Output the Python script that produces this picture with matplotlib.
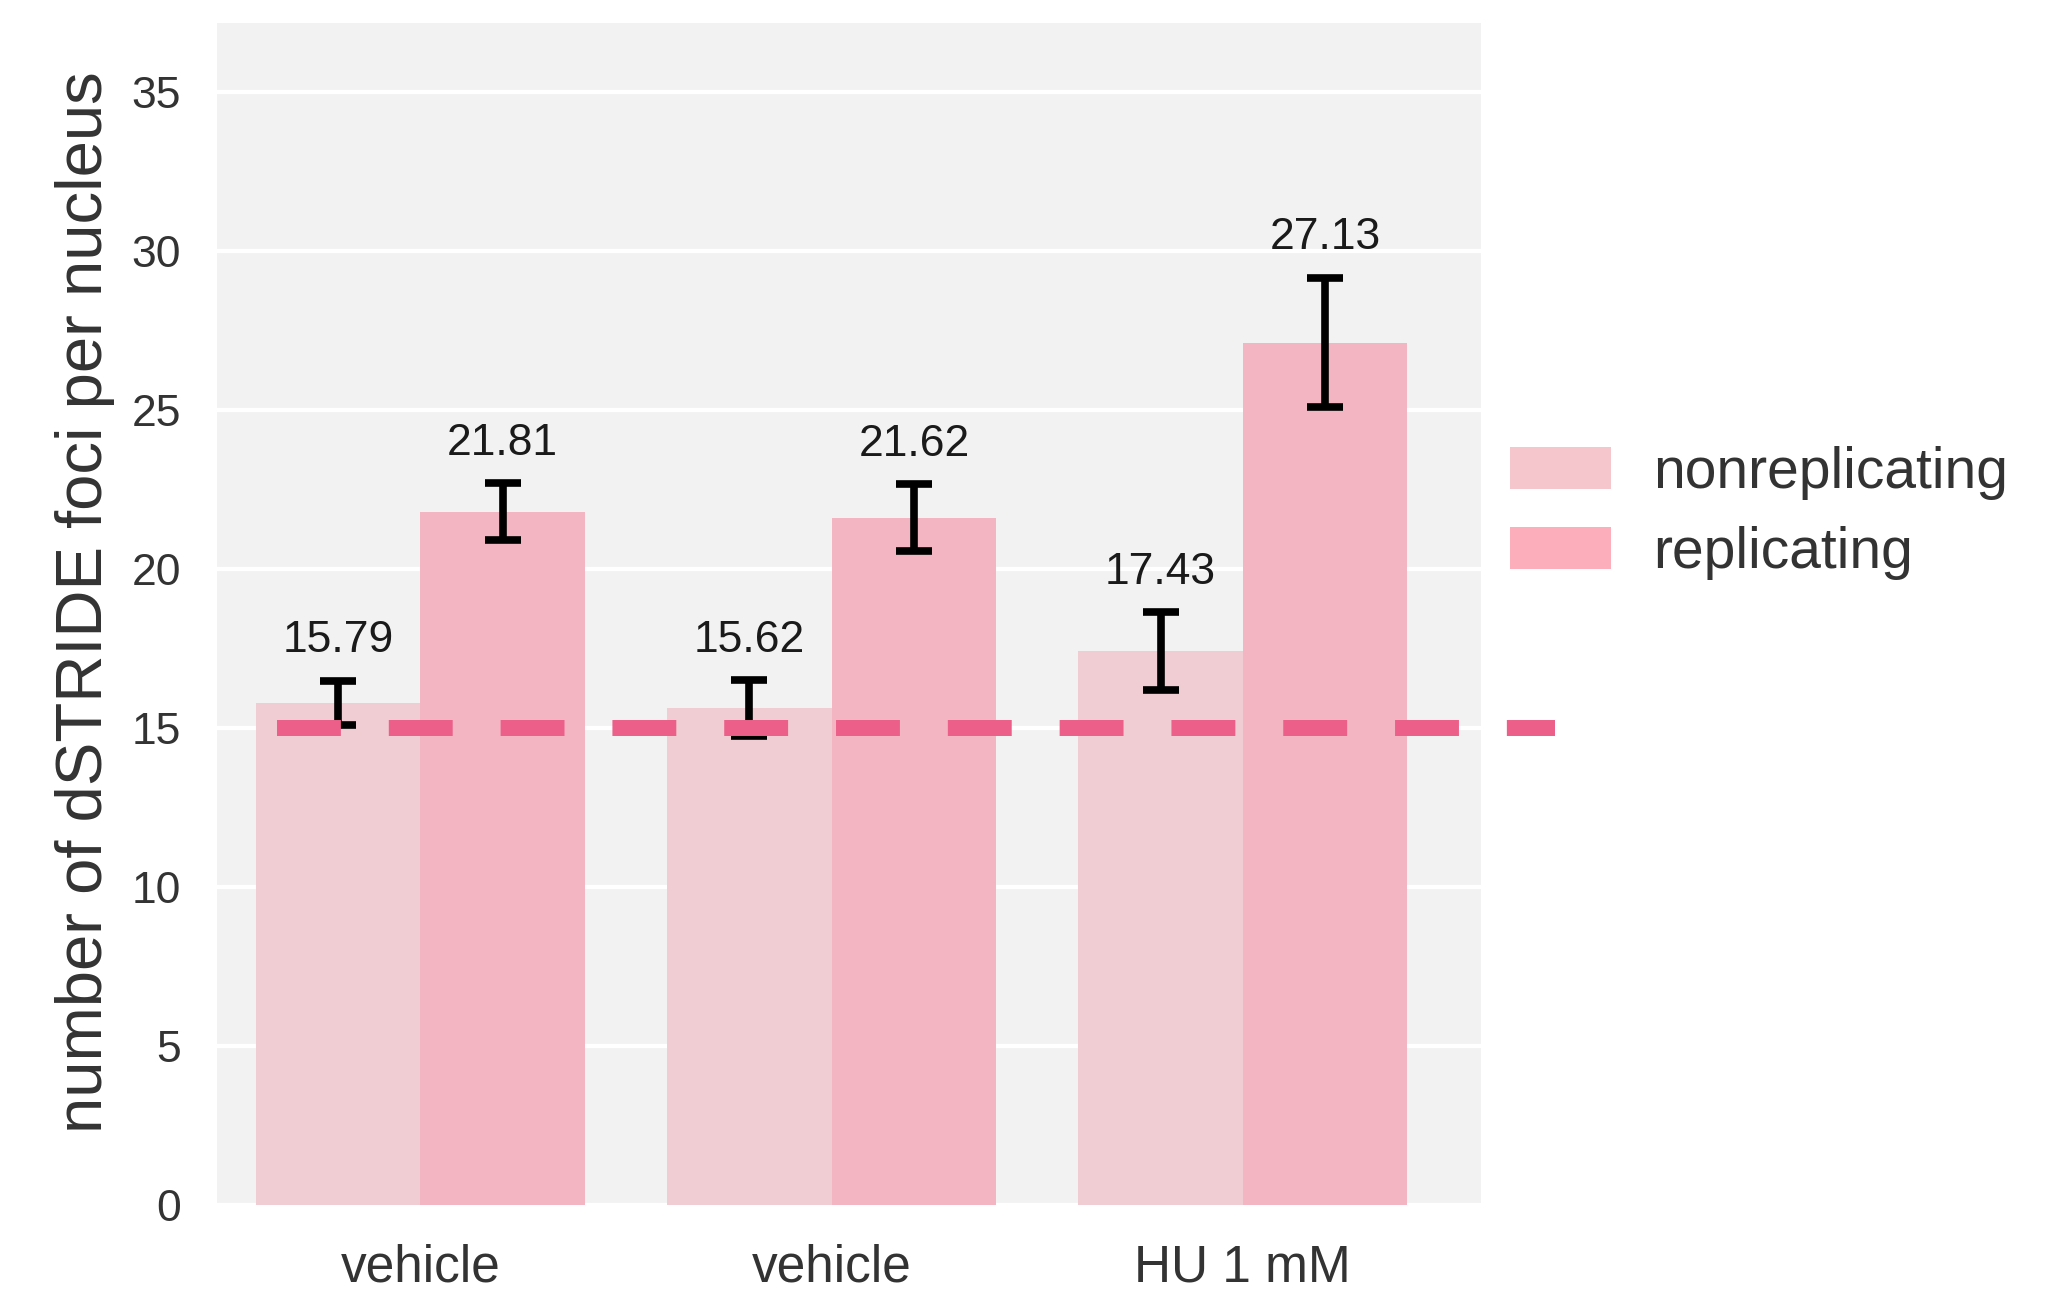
import numpy as np
import matplotlib
matplotlib.use("Agg")
import matplotlib.pyplot as plt
import matplotlib.transforms as mtransforms
from matplotlib.patches import Patch

# data
groups = ["vehicle", "vehicle", "HU 1 mM"]
series = ["nonreplicating", "replicating"]
nonrep_mean = [15.79, 15.62, 17.43]
nonrep_err = [0.70, 0.88, 1.22]
rep_mean = [21.81, 21.62, 27.13]
rep_err = [0.90, 1.05, 2.04]
threshold = 15

bar_colors = ["#F0CDD2", "#F4B5C3"]
legend_colors = ["#F5C6CB", "#FDAEBB"]
line_color = "#EB5F89"
text_color = "#333333"

plt.rcParams["font.family"] = ["Liberation Sans", "DejaVu Sans"]

fig = plt.figure(figsize=(20.54, 13.03), dpi=100)
ax = fig.add_axes([0.1056, 0.0752, 0.6154, 0.9071])
ax.set_facecolor("#F2F2F2")

x = np.arange(len(groups))
w = 0.4
means = [nonrep_mean, rep_mean]
errs = [nonrep_err, rep_err]
offsets = [-w / 2, w / 2]

for k in range(2):
    xs = x + offsets[k]
    ax.bar(xs, means[k], width=w, color=bar_colors[k], zorder=2, linewidth=0)
    ax.errorbar(xs, means[k], yerr=errs[k], fmt="none", ecolor="black",
                elinewidth=5.5, capsize=13, capthick=5.5, zorder=3)
    for xi, m, e in zip(xs, means[k], errs[k]):
        ax.annotate(f"{m:.2f}", (xi, m + e), xytext=(0, 14),
                    textcoords="offset points", ha="center", va="bottom",
                    fontsize=32, color="#1a1a1a", zorder=4)

# threshold line, drawn past the right edge of the axes
trans = mtransforms.blended_transform_factory(ax.transAxes, ax.transData)
ax.plot([0.0474, 1.0585], [threshold, threshold], transform=trans,
        color=line_color, lw=11.5, linestyle=(0, (4, 3)),
        dash_capstyle="butt", solid_capstyle="butt",
        clip_on=False, zorder=5)

ax.set_xlim(-0.495, 2.579)
ax.set_ylim(0, 37.18)
ax.set_yticks(range(0, 36, 5))
ax.set_xticks(x)
ax.set_xticklabels(groups)
ax.yaxis.grid(True, color="white", lw=3, zorder=1)
ax.set_axisbelow(True)
for s in ax.spines.values():
    s.set_visible(False)
ax.tick_params(axis="both", length=0, labelcolor=text_color)
ax.tick_params(axis="y", labelsize=32, pad=26)
ax.tick_params(axis="x", labelsize=37, pad=28)
ax.set_ylabel("number of dSTRIDE foci per nucleus", fontsize=47,
              color=text_color)
ax.yaxis.set_label_coords(-0.081, 0.51)

handles = [Patch(facecolor=c, edgecolor="none") for c in legend_colors]
fig.legend(handles, series, loc="center left",
           bbox_to_anchor=(0.7352, 0.6063), frameon=False, fontsize=41,
           handlelength=1.77, handleheight=0.75, handletextpad=0.75,
           labelspacing=0.45, borderpad=0, borderaxespad=0,
           labelcolor=text_color)

fig.savefig("out.png", dpi=100)
